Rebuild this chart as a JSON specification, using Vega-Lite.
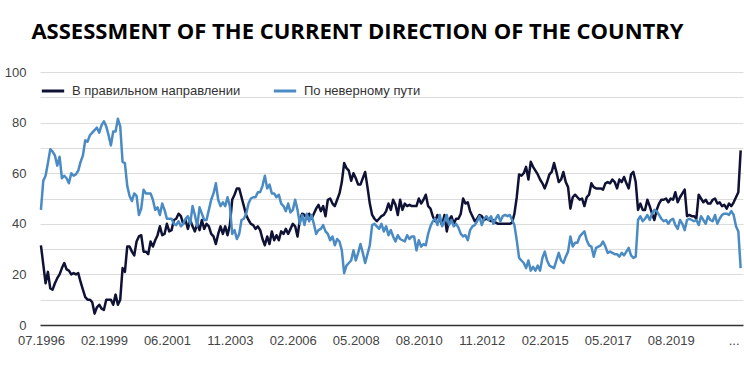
{
"$schema": "https://vega.github.io/schema/vega-lite/v6.json",
"width": 703, "height": 253,
"autosize": {"type": "none"},
"padding": {"left": 40, "top": 72, "right": 1, "bottom": 42},
"background": "white",
"title": {"text": "ASSESSMENT OF THE CURRENT DIRECTION OF THE COUNTRY", "font": "Open Sans", "fontWeight": "bold", "fontSize": 22, "color": "#000000", "anchor": "middle", "frame": "group", "dx": -34, "offset": 22},
"data": {"values": [
{"i":0,"right":31.5,"wrong":45.5},{"i":1,"right":24,"wrong":57},{"i":2,"right":16.5,"wrong":59},{"i":3,"right":21,"wrong":64},{"i":4,"right":14.5,"wrong":69.5},{"i":5,"right":14,"wrong":68.5},{"i":6,"right":16.5,"wrong":67},{"i":7,"right":18.5,"wrong":63},{"i":8,"right":20,"wrong":66.5},{"i":9,"right":22.5,"wrong":58},
{"i":10,"right":24.5,"wrong":59},{"i":11,"right":22,"wrong":58},{"i":12,"right":21.5,"wrong":56},{"i":13,"right":20,"wrong":60},{"i":14,"right":20.5,"wrong":59},{"i":15,"right":20,"wrong":59.5},{"i":16,"right":20.5,"wrong":61},{"i":17,"right":17,"wrong":64.5},{"i":18,"right":14,"wrong":67},{"i":19,"right":11,"wrong":73},
{"i":20,"right":10,"wrong":72.5},{"i":21,"right":10,"wrong":75},{"i":22,"right":9,"wrong":76},{"i":23,"right":4.5,"wrong":77},{"i":24,"right":7,"wrong":78},{"i":25,"right":8,"wrong":76},{"i":26,"right":6.5,"wrong":79},{"i":27,"right":6,"wrong":80.5},{"i":28,"right":10,"wrong":78.5},{"i":29,"right":10,"wrong":75},
{"i":30,"right":10,"wrong":71},{"i":31,"right":8,"wrong":76.5},{"i":32,"right":12,"wrong":76.5},{"i":33,"right":8,"wrong":81.5},{"i":34,"right":10,"wrong":78.5},{"i":35,"right":22.5,"wrong":64.5},{"i":36,"right":21,"wrong":64},{"i":37,"right":31,"wrong":55},{"i":38,"right":31,"wrong":51},{"i":39,"right":29,"wrong":49},
{"i":40,"right":27.5,"wrong":52},{"i":41,"right":33,"wrong":51},{"i":42,"right":35,"wrong":43.5},{"i":43,"right":35.5,"wrong":46},{"i":44,"right":29,"wrong":53.5},{"i":45,"right":29,"wrong":52},{"i":46,"right":28,"wrong":52},{"i":47,"right":33,"wrong":52},{"i":48,"right":31,"wrong":49.5},{"i":49,"right":33.5,"wrong":45.5},
{"i":50,"right":35.5,"wrong":46.5},{"i":51,"right":39,"wrong":43.5},{"i":52,"right":35.5,"wrong":48},{"i":53,"right":36,"wrong":45.5},{"i":54,"right":40,"wrong":42},{"i":55,"right":37,"wrong":42},{"i":56,"right":37.5,"wrong":42},{"i":57,"right":41.5,"wrong":40},{"i":58,"right":42,"wrong":39.5},{"i":59,"right":44,"wrong":41},
{"i":60,"right":43,"wrong":39},{"i":61,"right":40,"wrong":40},{"i":62,"right":41.5,"wrong":42},{"i":63,"right":38,"wrong":43},{"i":64,"right":41.5,"wrong":40},{"i":65,"right":39,"wrong":47},{"i":66,"right":37,"wrong":43.5},{"i":67,"right":40,"wrong":39},{"i":68,"right":37.5,"wrong":46.5},{"i":69,"right":41.5,"wrong":44},
{"i":70,"right":38,"wrong":41.5},{"i":71,"right":40,"wrong":41.5},{"i":72,"right":39,"wrong":45.5},{"i":73,"right":36,"wrong":49.5},{"i":74,"right":35,"wrong":52},{"i":75,"right":32,"wrong":56},{"i":76,"right":36,"wrong":49.5},{"i":77,"right":39,"wrong":47},{"i":78,"right":36,"wrong":48.5},{"i":79,"right":39,"wrong":47},
{"i":80,"right":35.5,"wrong":50.5},{"i":81,"right":39.5,"wrong":47},{"i":82,"right":49.5,"wrong":36},{"i":83,"right":51.5,"wrong":37.5},{"i":84,"right":54,"wrong":34},{"i":85,"right":54,"wrong":36},{"i":86,"right":50.5,"wrong":41.5},{"i":87,"right":47,"wrong":42},{"i":88,"right":43.5,"wrong":44},{"i":89,"right":41.5,"wrong":48},
{"i":90,"right":40,"wrong":50},{"i":91,"right":39.5,"wrong":50.5},{"i":92,"right":38,"wrong":50.5},{"i":93,"right":39,"wrong":52.5},{"i":94,"right":37.5,"wrong":52.5},{"i":95,"right":34,"wrong":55},{"i":96,"right":31.5,"wrong":59},{"i":97,"right":35,"wrong":54},{"i":98,"right":32,"wrong":55.5},{"i":99,"right":37,"wrong":52},
{"i":100,"right":33.5,"wrong":52},{"i":101,"right":35.5,"wrong":50.5},{"i":102,"right":33.5,"wrong":51.5},{"i":103,"right":37,"wrong":48},{"i":104,"right":36,"wrong":47},{"i":105,"right":38,"wrong":45},{"i":106,"right":36,"wrong":48},{"i":107,"right":38,"wrong":44.5},{"i":108,"right":40,"wrong":45.5},{"i":109,"right":39,"wrong":49.5},
{"i":110,"right":35,"wrong":45.5},{"i":111,"right":41.5,"wrong":40},{"i":112,"right":44,"wrong":43.5},{"i":113,"right":43.5,"wrong":39.5},{"i":114,"right":42,"wrong":44},{"i":115,"right":44,"wrong":41},{"i":116,"right":42,"wrong":43.5},{"i":117,"right":44,"wrong":40},{"i":118,"right":46,"wrong":36},{"i":119,"right":47.5,"wrong":37.5},
{"i":120,"right":45,"wrong":38},{"i":121,"right":47,"wrong":39.5},{"i":122,"right":43,"wrong":37},{"i":123,"right":49.5,"wrong":36},{"i":124,"right":50,"wrong":33.5},{"i":125,"right":48,"wrong":35},{"i":126,"right":47,"wrong":31.5},{"i":127,"right":49.5,"wrong":34},{"i":128,"right":52,"wrong":33},{"i":129,"right":56.5,"wrong":29.5},
{"i":130,"right":64,"wrong":20.5},{"i":131,"right":62,"wrong":23.5},{"i":132,"right":61,"wrong":24.5},{"i":133,"right":57,"wrong":25.5},{"i":134,"right":60,"wrong":29.5},{"i":135,"right":58,"wrong":25.5},{"i":136,"right":55.5,"wrong":28.5},{"i":137,"right":55.5,"wrong":32},{"i":138,"right":58,"wrong":28.5},{"i":139,"right":60.5,"wrong":24.5},
{"i":140,"right":54.5,"wrong":28},{"i":141,"right":48,"wrong":31.5},{"i":142,"right":43.5,"wrong":39.5},{"i":143,"right":42,"wrong":40},{"i":144,"right":41,"wrong":39},{"i":145,"right":42,"wrong":38},{"i":146,"right":43,"wrong":40},{"i":147,"right":43.5,"wrong":37},{"i":148,"right":45,"wrong":39},{"i":149,"right":48,"wrong":35.5},
{"i":150,"right":45.5,"wrong":37.5},{"i":151,"right":49.5,"wrong":35},{"i":152,"right":47.5,"wrong":33},{"i":153,"right":43.5,"wrong":35.5},{"i":154,"right":49.5,"wrong":34},{"i":155,"right":45.5,"wrong":33.5},{"i":156,"right":48,"wrong":33},{"i":157,"right":47,"wrong":35.5},{"i":158,"right":47.5,"wrong":34},{"i":159,"right":47,"wrong":35},
{"i":160,"right":47,"wrong":35},{"i":161,"right":47,"wrong":29.5},{"i":162,"right":50,"wrong":33.5},{"i":163,"right":48,"wrong":31},{"i":164,"right":49.5,"wrong":32},{"i":165,"right":51.5,"wrong":31.5},{"i":166,"right":47,"wrong":36},{"i":167,"right":46,"wrong":39},{"i":168,"right":43,"wrong":41},{"i":169,"right":41,"wrong":42},
{"i":170,"right":43.5,"wrong":39.5},{"i":171,"right":41.5,"wrong":43.5},{"i":172,"right":39.5,"wrong":39},{"i":173,"right":43.5,"wrong":41},{"i":174,"right":37,"wrong":43.5},{"i":175,"right":41.5,"wrong":39.5},{"i":176,"right":43,"wrong":41.5},{"i":177,"right":40,"wrong":39},{"i":178,"right":42,"wrong":40},{"i":179,"right":42,"wrong":38.5},
{"i":180,"right":44,"wrong":36},{"i":181,"right":50,"wrong":35},{"i":182,"right":48,"wrong":35.5},{"i":183,"right":48.5,"wrong":33.5},{"i":184,"right":45,"wrong":37.5},{"i":185,"right":43,"wrong":39},{"i":186,"right":41,"wrong":39.5},{"i":187,"right":42,"wrong":41},{"i":188,"right":43.5,"wrong":43},{"i":189,"right":43,"wrong":39.5},
{"i":190,"right":41.5,"wrong":42},{"i":191,"right":42,"wrong":43},{"i":192,"right":41.5,"wrong":41.5},{"i":193,"right":41,"wrong":43},{"i":194,"right":41.5,"wrong":40},{"i":195,"right":40.5,"wrong":42},{"i":196,"right":40,"wrong":43.5},{"i":197,"right":40,"wrong":41},{"i":198,"right":40,"wrong":43},{"i":199,"right":40,"wrong":43.5},
{"i":200,"right":40,"wrong":43},{"i":201,"right":40,"wrong":43.5},{"i":202,"right":40.5,"wrong":41.5},{"i":203,"right":44,"wrong":39.5},{"i":204,"right":50.5,"wrong":33.5},{"i":205,"right":59.5,"wrong":26.5},{"i":206,"right":59,"wrong":25.5},{"i":207,"right":60,"wrong":24.5},{"i":208,"right":62.5,"wrong":22.5},{"i":209,"right":57.5,"wrong":25.5},
{"i":210,"right":64.5,"wrong":21.5},{"i":211,"right":62.5,"wrong":23},{"i":212,"right":61,"wrong":21.5},{"i":213,"right":59.5,"wrong":23.5},{"i":214,"right":57.5,"wrong":21.5},{"i":215,"right":56,"wrong":26.5},{"i":216,"right":54,"wrong":29},{"i":217,"right":56.5,"wrong":25.5},{"i":218,"right":59.5,"wrong":23.5},{"i":219,"right":60.5,"wrong":23},
{"i":220,"right":64,"wrong":22.5},{"i":221,"right":60.5,"wrong":25.5},{"i":222,"right":56.5,"wrong":28.5},{"i":223,"right":57.5,"wrong":25.5},{"i":224,"right":60.5,"wrong":24.5},{"i":225,"right":56.5,"wrong":27},{"i":226,"right":54.5,"wrong":29},{"i":227,"right":46,"wrong":35},{"i":228,"right":50.5,"wrong":31},{"i":229,"right":51.5,"wrong":32.5},
{"i":230,"right":50.5,"wrong":32.5},{"i":231,"right":49.5,"wrong":35},{"i":232,"right":50,"wrong":36},{"i":233,"right":47,"wrong":37},{"i":234,"right":50.5,"wrong":33.5},{"i":235,"right":51.5,"wrong":31.5},{"i":236,"right":56,"wrong":31},{"i":237,"right":54.5,"wrong":27},{"i":238,"right":54,"wrong":30.5},{"i":239,"right":54,"wrong":31},
{"i":240,"right":54,"wrong":31.5},{"i":241,"right":53.5,"wrong":33},{"i":242,"right":56,"wrong":31},{"i":243,"right":56.5,"wrong":28.5},{"i":244,"right":56,"wrong":29},{"i":245,"right":57.5,"wrong":28.5},{"i":246,"right":56.5,"wrong":28},{"i":247,"right":54,"wrong":28},{"i":248,"right":57.5,"wrong":27},{"i":249,"right":56.5,"wrong":28.5},
{"i":250,"right":58.5,"wrong":27.5},{"i":251,"right":56,"wrong":29},{"i":252,"right":54,"wrong":30.5},{"i":253,"right":59.5,"wrong":27.5},{"i":254,"right":60.5,"wrong":26.5},{"i":255,"right":56.5,"wrong":27},{"i":256,"right":45.5,"wrong":41.5},{"i":257,"right":48,"wrong":43},{"i":258,"right":45.5,"wrong":41},{"i":259,"right":45.5,"wrong":42},
{"i":260,"right":49.5,"wrong":43.5},{"i":261,"right":47,"wrong":41.5},{"i":262,"right":44,"wrong":44},{"i":263,"right":41.5,"wrong":45.5},{"i":264,"right":45.5,"wrong":45},{"i":265,"right":48,"wrong":43.5},{"i":266,"right":49.5,"wrong":42},{"i":267,"right":49.5,"wrong":41},{"i":268,"right":50,"wrong":41.5},{"i":269,"right":48.5,"wrong":40},
{"i":270,"right":50,"wrong":41.5},{"i":271,"right":49.5,"wrong":42},{"i":272,"right":52.5,"wrong":39.5},{"i":273,"right":48.5,"wrong":38},{"i":274,"right":50.5,"wrong":41.5},{"i":275,"right":52,"wrong":40},{"i":276,"right":53.5,"wrong":37.5},{"i":277,"right":43,"wrong":41.5},{"i":278,"right":43.5,"wrong":42},{"i":279,"right":43,"wrong":41.5},
{"i":280,"right":43,"wrong":41},{"i":281,"right":42,"wrong":41.5},{"i":282,"right":51.5,"wrong":39.5},{"i":283,"right":50,"wrong":43},{"i":284,"right":48.5,"wrong":41.5},{"i":285,"right":49.5,"wrong":40},{"i":286,"right":48,"wrong":43},{"i":287,"right":48,"wrong":41.5},{"i":288,"right":49.5,"wrong":41},{"i":289,"right":50,"wrong":43.5},
{"i":290,"right":48,"wrong":40},{"i":291,"right":48.5,"wrong":42},{"i":292,"right":47,"wrong":43.5},{"i":293,"right":47.5,"wrong":44},{"i":294,"right":46,"wrong":44},{"i":295,"right":48,"wrong":43.5},{"i":296,"right":47,"wrong":45},{"i":297,"right":48.5,"wrong":43.5},{"i":298,"right":50.5,"wrong":39},{"i":299,"right":52.5,"wrong":37},
{"i":300,"right":69,"wrong":22.5}
]},
"transform": [{"fold": ["right", "wrong"], "as": ["series", "value"]}],
"mark": {"type": "line", "strokeWidth": 2.5, "strokeJoin": "round"},
"encoding": {
  "x": {"field": "i", "type": "quantitative",
        "scale": {"domain": [-0.4, 301], "nice": false, "zero": false},
        "axis": {"title": null, "values": [0,27,54,81,108,135,162,189,216,243,270,297],
                 "labelExpr": "['07.1996','02.1999','06.2001','11.2003','02.2006','05.2008','08.2010','11.2012','02.2015','05.2017','08.2019','...'][round(datum.value/27)]",
                 "grid": false, "ticks": false, "domainColor": "#333333", "domainWidth": 1.5,
                 "labelFont": "Liberation Sans", "labelFontSize": 13, "labelColor": "#444444",
                 "labelPadding": 9, "labelFlush": false, "labelOverlap": false}},
  "y": {"field": "value", "type": "quantitative",
        "scale": {"domain": [0, 100], "nice": false},
        "axis": {"title": null, "values": [0,10,20,30,40,50,60,70,80,90,100],
                 "labelExpr": "datum.value % 20 == 0 ? datum.label : ''",
                 "grid": true, "gridColor": "#dcdcdc", "gridWidth": 1,
                 "domain": false, "ticks": false,
                 "labelFont": "Liberation Sans", "labelFontSize": 13, "labelColor": "#444444",
                 "labelPadding": 14}},
  "color": {"field": "series", "type": "nominal",
            "scale": {"domain": ["right", "wrong"], "range": ["#0f1235", "#4a8bc4"]},
            "legend": {"orient": "none", "legendX": 0, "legendY": 6, "direction": "horizontal",
                       "title": null, "symbolType": "stroke", "symbolSize": 500, "symbolStrokeWidth": 3,
                       "labelFont": "Liberation Sans", "labelFontSize": 13, "labelColor": "#333333",
                       "labelOffset": 6, "columnPadding": 26, "labelLimit": 0,
                       "labelExpr": "datum.label == 'right' ? 'В правильном направлении' : 'По неверному пути'"}}
},
"config": {"view": {"stroke": null}}
}
